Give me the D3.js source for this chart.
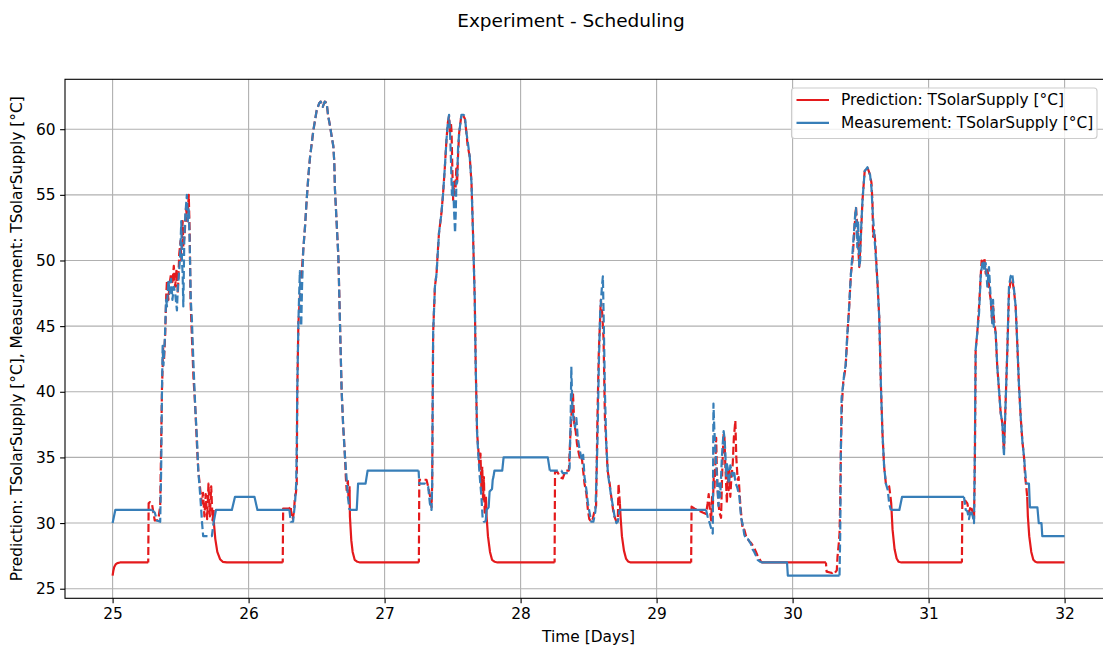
<!DOCTYPE html>
<html>
<head>
<meta charset="utf-8">
<script src="https://cdn.jsdelivr.net/npm/d3@7"></script>
<style>
  body { margin: 0; background: #fff; }
  svg { display: block; font-family: "DejaVu Sans", sans-serif; }
</style>
</head>
<body>
<svg id="chart" width="1103" height="646"></svg>
<script>
// Tick values for both axes
const xTicks = [25, 26, 27, 28, 29, 30, 31, 32];
const yTicks = [25, 30, 35, 40, 45, 50, 55, 60];

// Daytime operating windows (days): measured data feeds the model, drawn dashed
const dayStart = [25.255, 26.25, 27.25, 28.25, 29.254, 30.245, 31.245];
const dayEnd   = [25.742, 26.742, 27.745, 28.73, 29.77, 30.722, 31.725];

// Series labels and colours
const seriesNames = ["Prediction: TSolarSupply [°C]", "Measurement: TSolarSupply [°C]"];
const seriesColors = ["#e41a1c", "#377eb8"];

// Predicted supply temperature [time in days, °C]
const prediction = [
  [25.000, 26.0], [25.005, 26.35], [25.012, 26.65], [25.022, 26.85], [25.035, 26.95], [25.055, 27.0], [25.262, 27.0],
  [25.265, 31.5], [25.275, 31.6], [25.289, 31.5], [25.30, 30.8], [25.31, 30.2], [25.335, 30.2], [25.35, 31.3], [25.357, 36.0],
  [25.363, 40.2], [25.372, 43.4], [25.378, 42.4], [25.387, 44.5], [25.395, 47.5], [25.40, 48.5], [25.41, 47.0], [25.42, 48.3],
  [25.43, 49.0], [25.44, 48.2], [25.45, 49.6], [25.46, 48.0], [25.47, 49.3], [25.48, 47.5], [25.49, 50.5], [25.50, 51.5],
  [25.505, 50.0], [25.515, 53.0], [25.52, 51.0], [25.53, 52.0], [25.54, 54.0], [25.55, 53.0], [25.56, 55.0], [25.567, 52.0],
  [25.573, 47.0], [25.58, 45.0], [25.595, 41.0], [25.607, 39.0], [25.62, 36.0], [25.63, 34.0], [25.645, 32.5], [25.656, 31.5],
  [25.665, 32.3], [25.675, 30.5], [25.685, 32.2], [25.695, 30.3], [25.705, 33.0], [25.715, 30.5], [25.725, 32.8], [25.735, 30.2],
  [25.742, 31.0],
  [25.745, 30.0], [25.755, 28.8], [25.77, 27.8], [25.79, 27.25], [25.81, 27.05], [25.84, 27.0], [26.251, 27.0],
  [26.254, 31.1], [26.30, 31.1], [26.31, 31.3], [26.315, 30.4], [26.325, 30.3], [26.335, 31.0], [26.34, 32.0], [26.348, 32.3],
  [26.354, 33.0], [26.358, 40.1], [26.366, 45.2], [26.377, 47.2], [26.39, 49.0], [26.402, 50.8], [26.415, 52.6], [26.427, 54.6],
  [26.44, 56.5], [26.452, 57.9], [26.476, 59.9], [26.50, 61.4], [26.52, 62.0], [26.53, 62.1], [26.545, 61.7], [26.56, 62.1],
  [26.574, 62.0], [26.585, 61.0], [26.598, 60.3], [26.61, 59.5], [26.623, 58.7], [26.63, 57.5], [26.635, 55.4], [26.66, 50.3],
  [26.672, 45.2], [26.684, 40.1], [26.695, 37.5], [26.709, 35.0], [26.715, 33.5], [26.721, 32.5], [26.73, 33.2], [26.735, 31.8],
  [26.742, 32.8],
  [26.745, 30.5], [26.755, 28.7], [26.765, 27.8], [26.78, 27.2], [26.80, 27.05], [26.82, 27.0], [27.252, 27.0],
  [27.255, 33.3], [27.308, 33.3], [27.32, 32.8], [27.335, 32.0], [27.345, 31.2], [27.35, 33.0], [27.352, 36.9], [27.357, 44.5],
  [27.37, 48.0], [27.382, 49.0], [27.39, 50.5], [27.40, 52.1], [27.418, 53.6], [27.43, 55.1], [27.443, 57.1], [27.455, 59.2],
  [27.465, 60.5], [27.474, 61.0], [27.48, 59.8], [27.487, 60.5], [27.492, 59.9], [27.498, 57.0], [27.504, 54.6], [27.512, 56.0],
  [27.52, 55.0], [27.527, 57.0], [27.533, 55.9], [27.54, 58.0], [27.548, 59.7], [27.565, 61.1], [27.58, 61.0], [27.59, 60.8],
  [27.602, 59.7], [27.61, 58.8], [27.626, 57.9], [27.639, 55.9], [27.65, 52.1], [27.663, 47.0], [27.67, 41.9], [27.68, 36.9],
  [27.69, 35.5], [27.70, 34.0], [27.705, 35.3], [27.712, 32.5], [27.718, 34.3], [27.724, 31.8], [27.73, 33.5], [27.736, 30.8],
  [27.745, 32.0],
  [27.75, 30.5], [27.76, 29.0], [27.775, 27.8], [27.79, 27.2], [27.81, 27.05], [27.83, 27.0], [28.25, 27.0],
  [28.253, 33.9], [28.27, 33.9], [28.29, 33.5], [28.31, 33.4], [28.33, 34.0], [28.355, 34.0], [28.365, 36.5], [28.378, 39.0],
  [28.385, 39.9], [28.395, 37.5], [28.405, 37.0], [28.415, 36.0], [28.43, 35.2], [28.44, 34.8], [28.45, 35.0], [28.46, 34.0],
  [28.47, 33.0], [28.483, 32.3], [28.495, 31.0], [28.505, 30.3], [28.52, 30.1], [28.53, 30.3], [28.545, 31.0], [28.555, 31.3],
  [28.565, 38.0], [28.575, 43.0], [28.59, 47.0], [28.60, 46.0], [28.61, 44.0], [28.62, 38.0], [28.64, 34.0], [28.655, 33.0],
  [28.667, 32.0], [28.68, 31.0], [28.69, 30.5], [28.705, 30.1], [28.715, 30.3], [28.72, 33.0], [28.73, 31.5],
  [28.735, 30.5], [28.745, 29.0], [28.76, 27.9], [28.775, 27.3], [28.79, 27.08], [28.81, 27.0], [29.254, 27.0],
  [29.257, 31.25], [29.28, 31.1], [29.30, 31.0], [29.32, 30.9], [29.339, 30.8], [29.364, 30.7], [29.375, 31.5], [29.383, 32.2],
  [29.392, 31.0], [29.401, 30.2], [29.408, 32.0], [29.413, 31.0], [29.42, 33.5], [29.425, 32.5], [29.432, 34.6], [29.438, 36.5],
  [29.443, 34.0], [29.449, 32.5], [29.455, 31.5], [29.462, 30.8], [29.474, 30.4], [29.48, 33.0], [29.486, 35.0], [29.493, 36.8],
  [29.499, 36.5], [29.505, 34.5], [29.511, 33.0], [29.517, 31.5], [29.523, 34.0], [29.53, 32.5], [29.535, 34.0], [29.542, 32.0],
  [29.55, 33.5], [29.56, 34.5], [29.568, 36.5], [29.579, 37.8], [29.586, 35.0], [29.596, 33.3], [29.603, 33.5], [29.609, 32.5],
  [29.615, 31.5], [29.621, 30.8], [29.633, 29.5], [29.645, 29.5], [29.658, 29.0], [29.67, 28.8], [29.682, 28.6], [29.694, 28.5],
  [29.706, 28.3], [29.718, 28.1], [29.731, 27.8], [29.743, 27.5], [29.755, 27.3], [29.768, 27.06],
  [29.78, 27.0], [30.245, 27.0],
  [30.25, 26.3], [30.29, 26.2], [30.30, 26.3], [30.31, 26.2], [30.325, 26.4], [30.33, 27.4], [30.34, 28.5], [30.345, 29.2],
  [30.35, 31.5], [30.355, 35.6], [30.363, 39.1], [30.372, 40.7], [30.39, 41.9], [30.404, 44.5], [30.416, 46.5], [30.429, 49.0],
  [30.44, 50.0], [30.453, 52.1], [30.466, 54.1], [30.478, 52.1], [30.49, 49.5], [30.502, 51.8], [30.514, 54.6], [30.53, 56.8],
  [30.55, 57.1], [30.57, 56.5], [30.58, 55.9], [30.587, 54.5], [30.592, 51.8], [30.60, 52.3], [30.607, 51.5], [30.624, 48.3],
  [30.637, 45.7], [30.649, 40.6], [30.661, 36.8], [30.673, 34.3], [30.686, 33.0], [30.71, 32.8], [30.72, 32.0],
  [30.725, 31.5], [30.735, 29.5], [30.75, 28.0], [30.765, 27.3], [30.78, 27.05], [30.80, 27.0], [31.245, 27.0],
  [31.248, 31.8], [31.27, 31.7], [31.285, 31.5], [31.297, 30.8], [31.31, 31.3], [31.325, 30.8], [31.334, 30.3], [31.338, 33.0],
  [31.341, 35.6], [31.346, 43.2], [31.358, 44.5], [31.371, 46.5], [31.383, 48.8], [31.39, 50.0], [31.40, 49.5], [31.41, 50.2],
  [31.42, 49.0], [31.432, 49.5], [31.44, 48.5], [31.45, 47.5], [31.457, 47.0], [31.468, 45.2], [31.475, 46.5], [31.481, 45.5],
  [31.493, 44.5], [31.505, 41.9], [31.518, 40.1], [31.53, 38.4], [31.542, 37.6], [31.554, 35.5], [31.567, 39.4], [31.579, 43.2],
  [31.591, 47.5], [31.603, 48.5], [31.615, 48.5], [31.627, 47.8], [31.64, 46.5], [31.652, 43.7], [31.664, 40.6], [31.677, 38.1],
  [31.689, 36.3], [31.701, 35.1], [31.71, 33.5], [31.718, 32.8], [31.725, 32.0],
  [31.73, 30.5], [31.74, 29.0], [31.755, 27.8], [31.77, 27.2], [31.785, 27.05], [31.80, 27.0], [32.0, 27.0]
];

// Measured supply temperature [time in days, °C]
const measurement = [
  [25.000, 30.0], [25.02, 31.0], [25.289, 31.0], [25.31, 30.8], [25.326, 30.2], [25.35, 30.1], [25.357, 34.0], [25.363, 40.0],
  [25.368, 43.5], [25.374, 42.0], [25.385, 44.2], [25.393, 47.0], [25.40, 46.5], [25.41, 48.5], [25.42, 47.5], [25.43, 48.6],
  [25.44, 47.0], [25.45, 48.0], [25.46, 47.5], [25.473, 46.2], [25.48, 48.0], [25.49, 49.3], [25.497, 50.5], [25.505, 53.0],
  [25.51, 50.0], [25.515, 49.0], [25.52, 46.5], [25.527, 51.5], [25.535, 53.5], [25.546, 55.0], [25.553, 53.0], [25.56, 54.0],
  [25.567, 51.3], [25.575, 47.0], [25.583, 45.5], [25.595, 42.0], [25.607, 39.0], [25.62, 36.5], [25.63, 34.0], [25.645, 32.0],
  [25.658, 30.0], [25.666, 29.0], [25.73, 29.0], [25.742, 30.0], [25.76, 31.0], [25.877, 31.0], [25.90, 32.0], [26.043, 32.0],
  [26.065, 31.0], [26.30, 31.0], [26.31, 30.1], [26.327, 30.1], [26.341, 31.5], [26.35, 33.0], [26.354, 36.0], [26.358, 40.1],
  [26.366, 45.2], [26.372, 47.5], [26.377, 49.2], [26.382, 46.0], [26.387, 45.0], [26.393, 48.0], [26.402, 50.8], [26.415, 52.6],
  [26.427, 54.6], [26.44, 56.5], [26.452, 57.9], [26.476, 59.9], [26.50, 61.4], [26.52, 62.0], [26.53, 62.1], [26.545, 61.7],
  [26.56, 62.1], [26.574, 62.0], [26.585, 61.0], [26.598, 60.3], [26.61, 59.5], [26.623, 58.7], [26.63, 57.5], [26.635, 55.4],
  [26.66, 50.3], [26.672, 45.2], [26.684, 40.1], [26.695, 37.5], [26.709, 35.0], [26.72, 33.5], [26.73, 32.0], [26.742, 31.0],
  [26.795, 31.0], [26.805, 33.0], [26.86, 33.0], [26.875, 34.0], [27.25, 34.0], [27.255, 33.0], [27.30, 33.0], [27.32, 32.8],
  [27.333, 31.5], [27.345, 31.0], [27.35, 33.0], [27.352, 36.9], [27.357, 44.5], [27.37, 48.0], [27.382, 49.0], [27.40, 52.1],
  [27.418, 53.6], [27.43, 55.1], [27.443, 57.1], [27.455, 59.2], [27.465, 60.5], [27.474, 61.1], [27.48, 60.0], [27.487, 58.0],
  [27.495, 55.0], [27.504, 55.9], [27.51, 54.0], [27.518, 52.1], [27.523, 53.5], [27.528, 56.0], [27.533, 55.9], [27.54, 58.5],
  [27.548, 59.7], [27.565, 61.1], [27.58, 61.1], [27.59, 61.0], [27.602, 59.7], [27.612, 59.0], [27.626, 57.9], [27.639, 55.9],
  [27.65, 52.1], [27.663, 47.0], [27.67, 41.9], [27.68, 36.9], [27.69, 35.0], [27.70, 33.5], [27.712, 32.0], [27.72, 30.5],
  [27.73, 30.1], [27.743, 30.1], [27.75, 31.0], [27.765, 31.2], [27.772, 32.4], [27.79, 32.6], [27.795, 33.3], [27.80, 33.5],
  [27.808, 34.0], [27.865, 34.0], [27.875, 35.0], [28.20, 35.0], [28.215, 34.0], [28.30, 34.0], [28.31, 33.8], [28.35, 33.8],
  [28.36, 34.2], [28.368, 38.0], [28.373, 41.9], [28.38, 39.0], [28.39, 37.8], [28.40, 37.3], [28.41, 38.0], [28.42, 36.5],
  [28.434, 35.6], [28.45, 34.8], [28.46, 35.2], [28.47, 33.5], [28.483, 32.6], [28.495, 31.5], [28.507, 30.8], [28.52, 30.1],
  [28.535, 30.1], [28.55, 30.9], [28.565, 36.0], [28.575, 42.0], [28.585, 46.0], [28.598, 48.0], [28.605, 48.8], [28.612, 45.0],
  [28.62, 40.0], [28.63, 36.0], [28.642, 33.8], [28.655, 32.8], [28.667, 32.0], [28.68, 31.2], [28.691, 30.5], [28.705, 30.0],
  [28.715, 30.1], [28.727, 31.0], [29.364, 31.0], [29.375, 30.5], [29.39, 30.0], [29.401, 29.6], [29.413, 29.2], [29.418, 39.1],
  [29.425, 37.0], [29.432, 35.8], [29.438, 34.5], [29.443, 33.7], [29.449, 32.5], [29.455, 31.3], [29.462, 33.0], [29.468, 32.0],
  [29.474, 33.5], [29.48, 35.0], [29.486, 36.0], [29.493, 37.0], [29.499, 36.5], [29.505, 35.5], [29.511, 33.6], [29.517, 34.5],
  [29.523, 34.2], [29.53, 33.0], [29.535, 33.3], [29.542, 34.4], [29.55, 34.0], [29.56, 33.6], [29.57, 34.0], [29.579, 33.1],
  [29.59, 32.8], [29.596, 32.6], [29.609, 32.0], [29.621, 30.4], [29.633, 29.9], [29.645, 29.1], [29.658, 28.8], [29.67, 28.8],
  [29.682, 28.6], [29.694, 28.4], [29.706, 28.0], [29.718, 27.8], [29.731, 27.5], [29.743, 27.2], [29.768, 27.0], [29.959, 27.0],
  [29.965, 26.0], [30.345, 26.0], [30.35, 29.0], [30.355, 35.6], [30.36, 39.5], [30.365, 40.0], [30.372, 40.5], [30.38, 41.5],
  [30.39, 42.0], [30.40, 44.0], [30.416, 46.5], [30.429, 49.0], [30.44, 50.5], [30.45, 52.0], [30.46, 53.5], [30.466, 54.0],
  [30.47, 52.5], [30.476, 51.0], [30.482, 53.0], [30.49, 49.5], [30.497, 50.0], [30.502, 52.0], [30.514, 54.6], [30.53, 56.8],
  [30.55, 57.1], [30.57, 56.5], [30.58, 55.5], [30.59, 53.5], [30.607, 51.0], [30.624, 48.3], [30.637, 45.7], [30.649, 40.6],
  [30.661, 36.8], [30.673, 34.3], [30.686, 33.0], [30.70, 32.5], [30.71, 31.5], [30.722, 31.0], [30.785, 31.0], [30.805, 32.0],
  [31.26, 32.0], [31.273, 31.0], [31.285, 30.9], [31.297, 30.3], [31.31, 31.0], [31.325, 30.5], [31.334, 30.0], [31.34, 35.6],
  [31.346, 43.2], [31.358, 44.5], [31.371, 46.0], [31.383, 48.8], [31.395, 49.8], [31.403, 50.0], [31.41, 49.2], [31.42, 49.8],
  [31.432, 48.0], [31.444, 49.5], [31.457, 47.0], [31.468, 45.2], [31.474, 47.0], [31.48, 44.8], [31.493, 44.5], [31.505, 41.9],
  [31.518, 40.1], [31.53, 38.4], [31.542, 37.6], [31.554, 35.1], [31.567, 39.4], [31.579, 43.2], [31.591, 48.0], [31.603, 48.8],
  [31.615, 49.0], [31.627, 47.9], [31.64, 46.5], [31.652, 43.7], [31.664, 40.6], [31.677, 38.1], [31.689, 36.3], [31.701, 35.1],
  [31.718, 33.0], [31.738, 33.0], [31.745, 31.2], [31.80, 31.2], [31.81, 30.0], [31.83, 30.0], [31.836, 29.0], [32.0, 29.0]
];

const svg = d3.select("#chart");
const W = 1103, H = 646;
const plot = { left: 65, top: 79.3, bottom: 598.3, right: 1112.2 };
const baseFont = "15.4px";

const x = d3.scaleLinear().domain([24.65, 32.35]).range([plot.left, plot.right]);
const y = d3.scaleLinear().domain([24.27, 63.8]).range([plot.bottom, plot.top]);

svg.append("rect").attr("width", W).attr("height", H).attr("fill", "#fff");

// Grid
const grid = svg.append("g").attr("stroke", "#b0b0b0").attr("stroke-width", 1.1);
grid.selectAll("line.gx").data(xTicks).join("line")
  .attr("x1", d => x(d)).attr("x2", d => x(d))
  .attr("y1", plot.top).attr("y2", plot.bottom);
grid.selectAll("line.gy").data(yTicks).join("line")
  .attr("x1", plot.left).attr("x2", plot.right)
  .attr("y1", d => y(d)).attr("y2", d => y(d));

// Split a series into runs of solid (night) and dashed (day) segments
const inDay = t => dayStart.some((s, i) => t >= s && t <= dayEnd[i]);
function splitRuns(points) {
  const runs = [];
  let cur = null;
  for (let i = 0; i < points.length - 1; i++) {
    const dash = inDay((points[i][0] + points[i + 1][0]) / 2);
    if (!cur || cur.dash !== dash) {
      cur = { dash, pts: [points[i]] };
      runs.push(cur);
    }
    cur.pts.push(points[i + 1]);
  }
  return runs;
}

const line = d3.line().x(d => x(d[0])).y(d => y(d[1]));

svg.append("clipPath").attr("id", "plotClip")
  .append("rect").attr("x", plot.left).attr("y", plot.top)
  .attr("width", plot.right - plot.left).attr("height", plot.bottom - plot.top);

const lines = svg.append("g").attr("clip-path", "url(#plotClip)");
[prediction, measurement].forEach((series, k) => {
  lines.append("g").selectAll("path").data(splitRuns(series)).join("path")
    .attr("d", r => line(r.pts))
    .attr("fill", "none")
    .attr("stroke", seriesColors[k])
    .attr("stroke-width", 2.2)
    .attr("stroke-linejoin", "round")
    .attr("stroke-dasharray", r => r.dash ? "8,3.5" : null)
    .attr("stroke-dashoffset", r => r.dash && k === 0 ? 4 : 0);
});

// Axes
const xAxis = svg.append("g").attr("transform", `translate(0,${plot.bottom})`)
  .call(d3.axisBottom(x).tickValues(xTicks).tickSize(4.9).tickSizeOuter(0).tickPadding(4.5).tickFormat(d3.format("d")));
const yAxis = svg.append("g").attr("transform", `translate(${plot.left},0)`)
  .call(d3.axisLeft(y).tickValues(yTicks).tickSize(4.9).tickSizeOuter(0).tickPadding(4.5).tickFormat(d3.format("d")));
[xAxis, yAxis].forEach(a => {
  a.select(".domain").remove();
  a.selectAll(".tick line").attr("stroke", "#000").attr("stroke-width", 1.1);
  a.selectAll(".tick text").attr("fill", "#000").style("font-size", baseFont)
    .style("font-family", "DejaVu Sans, sans-serif");
});

// Spines
svg.append("rect")
  .attr("x", plot.left).attr("y", plot.top)
  .attr("width", plot.right - plot.left).attr("height", plot.bottom - plot.top)
  .attr("fill", "none").attr("stroke", "#000").attr("stroke-width", 1.1);

// Titles
svg.append("text").attr("x", 571).attr("y", 26.5).attr("text-anchor", "middle")
  .style("font-size", "18.5px").text("Experiment - Scheduling");
svg.append("text").attr("x", (plot.left + plot.right) / 2).attr("y", 642).attr("text-anchor", "middle")
  .style("font-size", baseFont).text("Time [Days]");
svg.append("text")
  .attr("transform", `translate(17,${(plot.top + plot.bottom) / 2}) rotate(-90)`)
  .attr("text-anchor", "middle").attr("dominant-baseline", "central")
  .style("font-size", baseFont)
  .text("Prediction: TSolarSupply [°C], Measurement: TSolarSupply [°C]");

// Legend
const legend = svg.append("g");
legend.append("rect").attr("x", 791.5).attr("y", 88).attr("width", 305.5).attr("height", 50.5)
  .attr("rx", 3).attr("fill", "#fff").attr("fill-opacity", 0.8)
  .attr("stroke", "#cccccc").attr("stroke-width", 1.1);
seriesNames.forEach((name, i) => {
  const ly = 100 + i * 22.8;
  legend.append("line").attr("x1", 796.5).attr("x2", 829).attr("y1", ly).attr("y2", ly)
    .attr("stroke", seriesColors[i]).attr("stroke-width", 2.2);
  legend.append("text").attr("x", 841).attr("y", ly).attr("dominant-baseline", "central")
    .style("font-size", baseFont).text(name);
});
</script>
</body>
</html>
